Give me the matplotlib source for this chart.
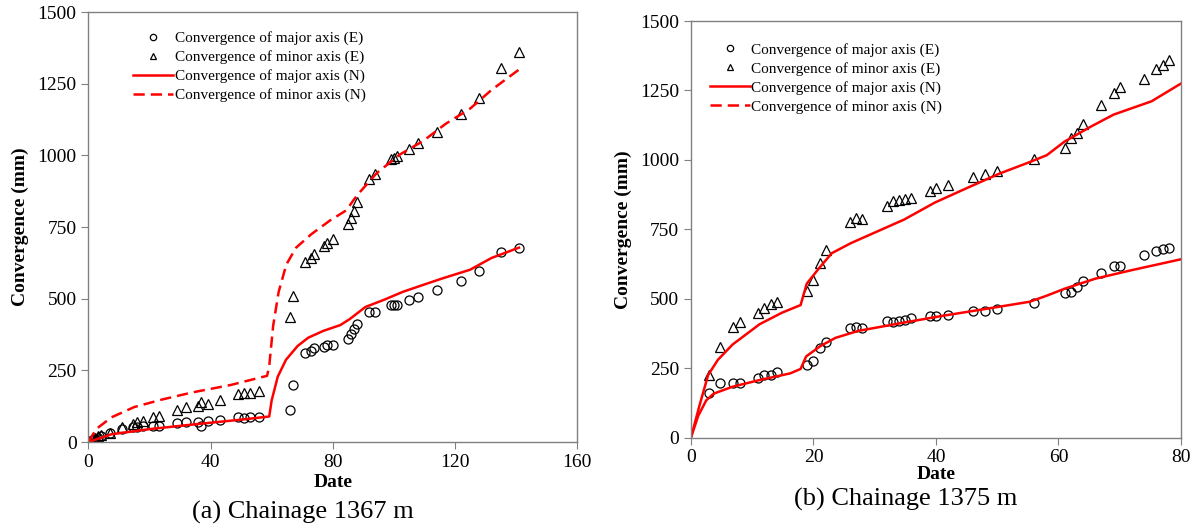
import matplotlib
matplotlib.use("Agg")
import matplotlib.pyplot as plt

plt.rcParams['font.family'] = ['Liberation Serif', 'DejaVu Serif']

# ---- (a) Chainage 1367 m ----
a_days = [0, 1, 2, 3, 4, 7, 11, 14.5, 16, 18, 21, 23, 29, 32, 36, 37, 39, 43,
          49, 51, 53, 56, 66, 67, 71, 73, 74, 77, 78, 80, 85, 86, 87, 88,
          92, 94, 99, 100, 101, 105, 108, 114, 122, 128, 135, 141]
a_major_e = [0, 8, 12, 15, 20, 30, 47, 53, 53, 57, 57, 57, 65, 69, 69, 57, 75, 78,
             89, 84, 88, 89, 112, 199, 309, 317, 327, 332, 337, 337, 358, 376, 394, 412,
             455, 453, 479, 479, 479, 495, 506, 529, 561, 597, 664, 678]
a_minor_e = [0, 10, 15, 20, 25, 33, 51, 63, 69, 75, 86, 91, 112, 122, 127, 140, 134, 148,
             166, 172, 172, 178, 437, 511, 627, 642, 656, 685, 694, 708, 761, 780, 806, 838,
             918, 935, 988, 991, 997, 1021, 1042, 1082, 1146, 1200, 1305, 1362]

a_major_n_x = [0, 7.5, 20, 35, 50, 59.2, 60, 62, 64.7, 68.5, 72, 77, 82.5, 85.6,
               90.7, 97, 103, 109.6, 116, 125, 132, 141]
a_major_n_y = [0, 27, 45, 62, 78, 89, 145, 228, 287, 335, 364, 388, 408, 429,
               471, 497, 524, 548, 571, 601, 642, 678]
a_minor_n_x = [0, 2.5, 7.5, 15, 24, 34, 46.6, 58.5, 59.2, 60.5, 62.3, 64.8, 68, 73,
               79, 84.4, 88, 94.4, 102, 109.6, 117, 125, 132, 142]
a_minor_n_y = [0, 45, 86, 122, 148, 173, 199, 231, 264, 406, 524, 619, 678, 725,
               772, 808, 861, 938, 1003, 1050, 1110, 1163, 1228, 1307]

# ---- (b) Chainage 1375 m ----
b_days = [2.9, 4.8, 6.8, 8, 10.9, 11.9, 13, 14, 19, 20, 21, 22, 25.9, 26.9, 28,
          32, 33, 34, 35, 36, 39, 40, 42, 46, 48, 50, 56, 61, 62, 63, 64, 67, 69, 70,
          74, 76, 77, 78]
b_major_e = [161, 198, 198, 195, 213, 225, 225, 237, 262, 274, 323, 345, 396, 399, 396,
             420, 416, 420, 422, 429, 436, 436, 442, 454, 457, 463, 483, 520, 524, 541, 564,
             591, 619, 619, 658, 670, 678, 684]
b_minor_e = [225, 326, 398, 416, 447, 465, 481, 489, 527, 566, 629, 676, 777, 791, 788,
             834, 852, 855, 858, 864, 889, 897, 910, 939, 949, 959, 1004, 1043, 1080, 1096, 1129,
             1196, 1240, 1264, 1293, 1327, 1342, 1360]

b_major_n_x = [0, 1.2, 2.5, 3.7, 6.8, 11.2, 16.2, 17.9, 18.8, 21.1, 23.6, 27.3, 34.8,
               41, 50.3, 55.3, 58.1, 61, 66, 72, 80]
b_major_n_y = [0, 79, 134, 158, 183, 207, 231, 247, 292, 329, 359, 384, 414,
               438, 471, 489, 511, 536, 572, 603, 642]
b_minor_n_x = [0, 1.4, 2.8, 4.4, 6.8, 11.2, 14.9, 17.9, 18.9, 21.1, 23, 26.1, 30.5,
               34.8, 39.8, 44.7, 50.3, 55.3, 58.1, 61, 65.3, 69, 75.2, 80]
b_minor_n_y = [0, 116, 225, 280, 335, 408, 450, 477, 554, 615, 664, 700, 743,
               785, 846, 895, 950, 992, 1017, 1066, 1120, 1163, 1211, 1275]

labels = ["Convergence of major axis (E)", "Convergence of minor axis (E)",
          "Convergence of major axis (N)", "Convergence of minor axis (N)"]

fig = plt.figure(figsize=(11.94, 5.30), dpi=100)
ax1 = fig.add_axes([0.0741, 0.166, 0.4091, 0.8113])
ax2 = fig.add_axes([0.5787, 0.1745, 0.4104, 0.7858])

mk = dict(linestyle='none', markersize=6.5, markerfacecolor='none',
          markeredgecolor='black', markeredgewidth=0.9)
LW = 1.8


def draw(ax, days, maj_e, min_e, mjx, mjy, mnx, mny, minor_dashed, xmax, xstep):
    ax.plot(days, maj_e, marker='o', **mk)
    ax.plot(days, min_e, marker='^', **mk)
    ax.plot(mjx, mjy, color='#ff0000', lw=LW)
    if minor_dashed:
        ax.plot(mnx, mny, color='#ff0000', lw=LW, dashes=(4.5, 2.4))
    else:
        ax.plot(mnx, mny, color='#ff0000', lw=LW)
    ax.set_xlim(0, xmax)
    ax.set_ylim(0, 1500)
    ax.set_xticks(range(0, xmax + 1, xstep))
    ax.set_yticks(range(0, 1501, 250))
    for s in ax.spines.values():
        s.set_color('#808080')
        s.set_linewidth(1.0)
    ax.tick_params(direction='out', length=5, color='#808080', labelsize=14)
    ax.set_xlabel('Date', fontsize=14, fontweight='bold', labelpad=2)
    ax.set_ylabel('Convergence (mm)', fontsize=14, fontweight='bold', labelpad=6)


draw(ax1, a_days, a_major_e, a_minor_e, a_major_n_x, a_major_n_y,
     a_minor_n_x, a_minor_n_y, True, 160, 40)
draw(ax2, b_days, b_major_e, b_minor_e, b_major_n_x, b_major_n_y,
     b_minor_n_x, b_minor_n_y, False, 80, 20)
ax2.xaxis.labelpad = 0

# legend handles (right panel legend shows a dashed minor N line too)
for ax, anchor in [(ax1, (0.092, 0.955)), (ax2, (0.039, 0.948))]:
    h1, = ax.plot([], [], marker='o', **mk)
    h2, = ax.plot([], [], marker='^', **mk)
    h3, = ax.plot([], [], color='#ff0000', lw=LW)
    h4, = ax.plot([], [], color='#ff0000', lw=LW, dashes=(4.5, 2.4))
    ax.legend([h1, h2, h3, h4], labels, loc='upper left', bbox_to_anchor=anchor,
              frameon=False, fontsize=11, handlelength=2.6, handletextpad=0.1,
              labelspacing=0.33, borderpad=0, borderaxespad=0, markerscale=0.7)

fig.text(303 / 1194, 1 - 512 / 530, '(a) Chainage 1367 m', fontsize=19,
         ha='center', va='center')
fig.text(906 / 1194, 1 - 499 / 530, '(b) Chainage 1375 m', fontsize=19,
         ha='center', va='center')

fig.savefig('out.png', dpi=100)
